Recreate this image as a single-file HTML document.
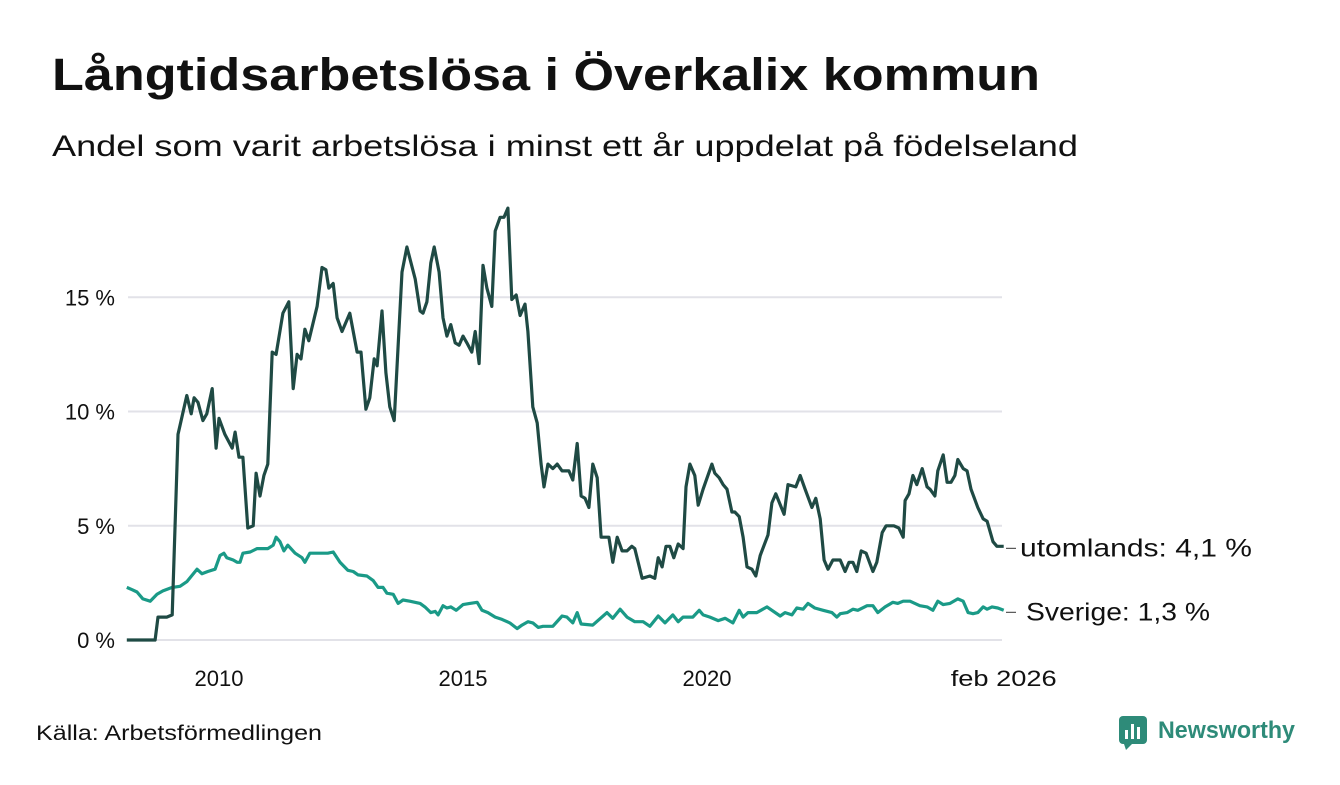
<!DOCTYPE html>
<html><head><meta charset="utf-8"><style>
body{margin:0;background:#fff;width:1340px;height:780px;overflow:hidden;font-family:"Liberation Sans",sans-serif;}
</style></head><body>
<svg width="1340" height="780" xmlns="http://www.w3.org/2000/svg">
<text x="52" y="90" font-size="45" font-weight="bold" fill="#111" textLength="988" lengthAdjust="spacingAndGlyphs">Långtidsarbetslösa i Överkalix kommun</text>
<text x="52" y="156" font-size="30" fill="#111" textLength="1026" lengthAdjust="spacingAndGlyphs">Andel som varit arbetslösa i minst ett år uppdelat på födelseland</text>
<g id="grid"></g><g id="yticks"></g><g id="xticks"></g><g id="lines"></g>
<text x="36" y="740" font-size="21" fill="#111" textLength="286" lengthAdjust="spacingAndGlyphs">Källa: Arbetsförmedlingen</text>
<g>
<rect x="1119" y="716" width="28" height="28" rx="4" fill="#2e8b79"/>
<rect x="1125" y="730" width="3" height="9" fill="#fff"/><rect x="1131" y="724" width="3" height="15" fill="#fff"/><rect x="1137" y="727" width="3" height="12" fill="#fff"/>
<polygon points="1124,744 1132,744 1126,750" fill="#2e8b79"/>
<text x="1158" y="738" font-size="24" font-weight="bold" fill="#2e8b79" textLength="137" lengthAdjust="spacingAndGlyphs">Newsworthy</text>
</g>
</svg>
<script>
const yTicks=[0,5,10,15];
const yTickLabels=["0 %","5 %","10 %","15 %"];
const xTicks=[2010,2015,2020,2026.08];
const xTickLabels=["2010","2015","2020","feb 2026"];
const abroadT=[2008.11,2008.69,2008.75,2008.93,2009.04,2009.16,2009.34,2009.43,2009.49,2009.57,2009.67,2009.75,2009.86,2009.94,2010.00,2010.12,2010.27,2010.33,2010.41,2010.49,2010.59,2010.70,2010.76,2010.84,2010.92,2011.00,2011.09,2011.17,2011.31,2011.43,2011.52,2011.60,2011.68,2011.76,2011.84,2012.01,2012.11,2012.19,2012.25,2012.34,2012.42,2012.52,2012.68,2012.83,2012.91,2013.01,2013.09,2013.18,2013.24,2013.34,2013.42,2013.50,2013.59,2013.75,2013.85,2014.02,2014.12,2014.18,2014.26,2014.34,2014.41,2014.51,2014.59,2014.67,2014.75,2014.84,2014.92,2015.00,2015.08,2015.18,2015.25,2015.33,2015.41,2015.49,2015.59,2015.66,2015.76,2015.84,2015.92,2016.00,2016.09,2016.17,2016.27,2016.33,2016.43,2016.52,2016.60,2016.66,2016.74,2016.84,2016.93,2017.03,2017.13,2017.17,2017.25,2017.34,2017.42,2017.50,2017.58,2017.66,2017.75,2017.83,2017.91,2017.99,2018.07,2018.16,2018.26,2018.36,2018.46,2018.52,2018.67,2018.83,2018.93,2019.00,2019.08,2019.16,2019.24,2019.32,2019.41,2019.51,2019.57,2019.65,2019.75,2019.82,2019.92,2020.10,2020.16,2020.25,2020.33,2020.41,2020.51,2020.57,2020.66,2020.74,2020.82,2020.92,2021.00,2021.09,2021.25,2021.33,2021.41,2021.58,2021.66,2021.82,2021.91,2022.01,2022.15,2022.23,2022.32,2022.40,2022.48,2022.58,2022.73,2022.83,2022.91,2022.99,2023.07,2023.16,2023.26,2023.40,2023.48,2023.59,2023.67,2023.83,2023.93,2024.02,2024.06,2024.14,2024.22,2024.30,2024.41,2024.51,2024.57,2024.67,2024.73,2024.84,2024.92,2025.00,2025.08,2025.14,2025.25,2025.33,2025.41,2025.55,2025.66,2025.74,2025.86,2025.94,2026.08];
const abroadV=[0,0,1.0,1.0,1.1,9.0,10.7,9.9,10.6,10.4,9.6,9.9,11.0,8.4,9.7,9.0,8.4,9.1,8.0,8.0,4.9,5.0,7.3,6.3,7.2,7.7,12.6,12.5,14.3,14.8,11.0,12.5,12.3,13.6,13.1,14.6,16.3,16.2,15.4,15.6,14.1,13.5,14.3,12.6,12.6,10.1,10.6,12.3,12.0,14.4,11.7,10.2,9.6,16.1,17.2,15.8,14.4,14.3,14.8,16.5,17.2,16.1,14.1,13.3,13.8,13.0,12.9,13.3,13.0,12.6,13.5,12.1,16.4,15.4,14.6,17.9,18.5,18.5,18.9,14.9,15.1,14.2,14.7,13.5,10.2,9.5,7.7,6.7,7.7,7.5,7.7,7.4,7.4,7.4,7.0,8.6,6.3,6.2,5.8,7.7,7.1,4.5,4.5,4.5,3.4,4.5,3.9,3.9,4.1,4.0,2.7,2.8,2.7,3.6,3.2,4.1,4.1,3.6,4.2,4.0,6.7,7.7,7.2,5.9,6.6,7.7,7.3,7.1,6.8,6.6,5.6,5.6,5.4,4.5,3.2,3.1,2.8,3.7,4.6,6.0,6.4,5.5,6.8,6.7,7.2,6.6,5.8,6.2,5.3,3.5,3.1,3.5,3.5,3.0,3.4,3.4,3.0,3.9,3.8,3.0,3.4,4.7,5.0,5.0,4.9,4.5,6.1,6.4,7.2,6.8,7.5,6.7,6.6,6.3,7.4,8.1,6.9,6.9,7.2,7.9,7.5,7.4,6.6,5.8,5.3,5.2,4.3,4.1,4.1];
const swedenT=[2008.11,2008.22,2008.32,2008.44,2008.59,2008.73,2008.85,2009.04,2009.20,2009.34,2009.55,2009.65,2009.77,2009.92,2010.02,2010.10,2010.16,2010.29,2010.37,2010.43,2010.49,2010.64,2010.78,2010.90,2011.00,2011.11,2011.17,2011.25,2011.33,2011.41,2011.56,2011.70,2011.76,2011.86,2012.01,2012.13,2012.23,2012.34,2012.48,2012.64,2012.75,2012.85,2013.03,2013.16,2013.26,2013.36,2013.44,2013.57,2013.67,2013.77,2013.91,2014.12,2014.22,2014.34,2014.43,2014.49,2014.59,2014.67,2014.75,2014.86,2015.00,2015.14,2015.29,2015.39,2015.51,2015.66,2015.80,2015.96,2016.11,2016.21,2016.33,2016.43,2016.54,2016.64,2016.84,2017.03,2017.13,2017.25,2017.34,2017.42,2017.66,2017.95,2018.07,2018.22,2018.36,2018.52,2018.69,2018.83,2019.00,2019.14,2019.30,2019.41,2019.51,2019.71,2019.84,2019.92,2020.06,2020.23,2020.37,2020.53,2020.66,2020.74,2020.84,2021.02,2021.23,2021.33,2021.50,2021.60,2021.74,2021.84,2021.97,2022.07,2022.21,2022.38,2022.56,2022.66,2022.73,2022.87,2022.99,2023.09,2023.28,2023.40,2023.50,2023.65,2023.81,2023.91,2024.02,2024.16,2024.36,2024.51,2024.63,2024.73,2024.84,2024.98,2025.14,2025.25,2025.35,2025.45,2025.55,2025.66,2025.74,2025.84,2025.96,2026.08];
const swedenV=[2.3,2.2,2.1,1.8,1.7,2.0,2.15,2.3,2.35,2.55,3.1,2.9,3.0,3.1,3.7,3.8,3.6,3.5,3.4,3.4,3.8,3.85,4.0,4.0,4.0,4.15,4.5,4.3,3.9,4.15,3.8,3.6,3.4,3.8,3.8,3.8,3.8,3.85,3.4,3.05,3.0,2.85,2.8,2.6,2.3,2.3,2.05,2.0,1.6,1.75,1.7,1.6,1.45,1.2,1.25,1.1,1.5,1.4,1.45,1.3,1.55,1.6,1.65,1.3,1.2,1.0,0.9,0.75,0.5,0.65,0.8,0.75,0.55,0.6,0.6,1.05,1.0,0.75,1.2,0.7,0.65,1.2,0.95,1.35,1.0,0.8,0.8,0.6,1.05,0.75,1.1,0.8,1.0,1.0,1.3,1.1,1.0,0.85,0.95,0.75,1.3,1.0,1.2,1.2,1.45,1.3,1.05,1.2,1.1,1.4,1.35,1.6,1.4,1.3,1.2,1.0,1.15,1.2,1.35,1.3,1.5,1.5,1.2,1.45,1.65,1.6,1.7,1.7,1.5,1.45,1.3,1.7,1.55,1.6,1.8,1.7,1.2,1.15,1.2,1.45,1.35,1.45,1.4,1.3];
const NS="http://www.w3.org/2000/svg";
const X=t=>219+(t-2010)*48.8;
const Y=v=>640-v*22.85;
function mk(tag,attrs,parent){const e=document.createElementNS(NS,tag);for(const k in attrs)e.setAttribute(k,attrs[k]);parent.appendChild(e);return e;}
const grid=document.getElementById('grid'),yt=document.getElementById('yticks'),xt=document.getElementById('xticks'),lines=document.getElementById('lines');
yTicks.forEach((v,i)=>{
 const g=mk('line',{x1:128,x2:1002,y1:Y(v),y2:Y(v),stroke:'#e2e2e8','stroke-width':2},grid);
 
 
 const t=mk('text',{x:115,y:Y(v)+8,'text-anchor':'end','font-size':22,fill:'#111'},yt);
 t.textContent=yTickLabels[i];
 
 
});
xTicks.forEach((v,i)=>{
 const attrs={x:X(v),y:686,'text-anchor':'middle','font-size':22,fill:'#111'};
 if(i==3){attrs.textLength=106;attrs.lengthAdjust='spacingAndGlyphs';}
 const t=mk('text',attrs,xt);
 t.textContent=xTickLabels[i];
 
 
});
function path(T,V,color,name){
 const d=T.map((t,i)=>(i?'L':'M')+X(t).toFixed(1)+','+Y(V[i]).toFixed(1)).join('');
 const p=mk('path',{d:d,fill:'none',stroke:color,'stroke-width':3.2,'stroke-linejoin':'round'},lines);
 
 
}
path(swedenT,swedenV,'#1a9a87','line-sverige');
path(abroadT,abroadV,'#1f4a44','line-utomlands');
function label(T,V,txt,name,len,x0){
 const y=Y(V[V.length-1]);
 mk('line',{x1:1006,x2:1016,y1:y+2,y2:y+2,stroke:'#333','stroke-width':1},lines);
 const t=mk('text',{x:x0,y:y+10,'font-size':25,fill:'#111',textLength:len,lengthAdjust:'spacingAndGlyphs'},lines);
 t.textContent=txt;
 
 
}
label(abroadT,abroadV,'utomlands: 4,1 %','label-utomlands',232,1020);
label(swedenT,swedenV,'Sverige: 1,3 %','label-sverige',184,1026);
</script>
</body></html>
